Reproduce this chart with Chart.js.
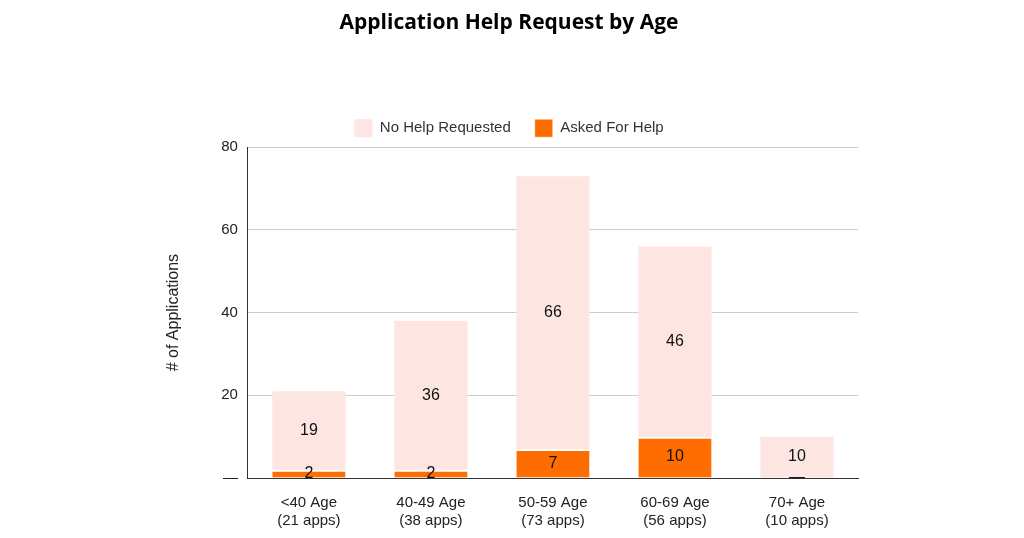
<!DOCTYPE html>
<html>
<head>
<meta charset="utf-8">
<script src="https://cdn.jsdelivr.net/npm/chart.js@4"></script>
<style>
  body { margin: 0; background: #fff; }
  #wrap { width: 1024px; height: 538px; }
</style>
</head>
<body>
<div id="wrap"><canvas id="chart"></canvas></div>
<script>
const categories = [["<40 Age", "(21 apps)"], ["40-49 Age", "(38 apps)"], ["50-59 Age", "(73 apps)"], ["60-69 Age", "(56 apps)"], ["70+ Age", "(10 apps)"]];
const askedForHelp = [2, 2, 7, 10, 0];
const noHelpRequested = [19, 36, 66, 46, 10];

// draw value labels in the middle of each bar
const barLabels = {
    id: "barLabels",
    afterDatasetsDraw(chart) {
        const ctx = chart.ctx;
        ctx.save();
        ctx.font = "16px 'Liberation Sans', Arial, sans-serif";
        ctx.fillStyle = "#111";
        ctx.textAlign = "center";
        ctx.textBaseline = "middle";
        chart.data.datasets.forEach((ds, i) => {
            chart.getDatasetMeta(i).data.forEach((bar, j) => {
                const v = ds.data[j];
                const y = (bar.y + bar.base) / 2;
                ctx.fillText(v === 0 ? "—" : String(v), bar.x, y);
            });
        });
        ctx.restore();
    }
};

new Chart(document.getElementById("chart"), {
    type: "bar",
    data: {
        labels: categories,
        datasets: [
            { label: "Asked For Help", data: askedForHelp, backgroundColor: "#ff6d01", borderColor: "#ffffff", borderWidth: { top: 2 }, borderSkipped: "bottom" },
            { label: "No Help Requested", data: noHelpRequested, backgroundColor: "#fde5e2" }
        ]
    },
    options: {
        responsive: true,
        maintainAspectRatio: false,
        animation: false,
        layout: { padding: { left: 160, right: 166, top: 10, bottom: 0 } },
        datasets: { bar: { barPercentage: 0.6, categoryPercentage: 1 } },
        plugins: {
            title: {
                display: true,
                text: "Application Help Request by Age",
                color: "#000",
                font: { family: "'Open Sans', sans-serif", size: 21, weight: "bold" },
                padding: { top: 0, bottom: 60 }
            },
            legend: {
                reverse: true,
                labels: {
                    boxWidth: 18, boxHeight: 18, padding: 24,
                    color: "#333",
                    font: { family: "'Liberation Sans', Arial, sans-serif", size: 15 }
                }
            },
            tooltip: { enabled: false }
        },
        scales: {
            x: {
                stacked: true,
                grid: { display: false },
                border: { color: "#333" },
                ticks: { color: "#222", padding: 8, font: { family: "'Liberation Sans', Arial, sans-serif", size: 15 } }
            },
            y: {
                stacked: true,
                min: 0, max: 80,
                ticks: {
                    stepSize: 20, padding: 10, color: "#222",
                    font: { family: "'Liberation Sans', Arial, sans-serif", size: 15 },
                    callback: v => v === 0 ? "—" : v
                },
                grid: { color: "#cccccc", drawTicks: false },
                border: { display: true, color: "#333" },
                title: {
                    display: true, text: "# of Applications", color: "#222",
                    font: { family: "'Liberation Sans', Arial, sans-serif", size: 16 },
                    padding: { bottom: 28 }
                }
            }
        }
    },
    plugins: [barLabels]
});
</script>
</body>
</html>
